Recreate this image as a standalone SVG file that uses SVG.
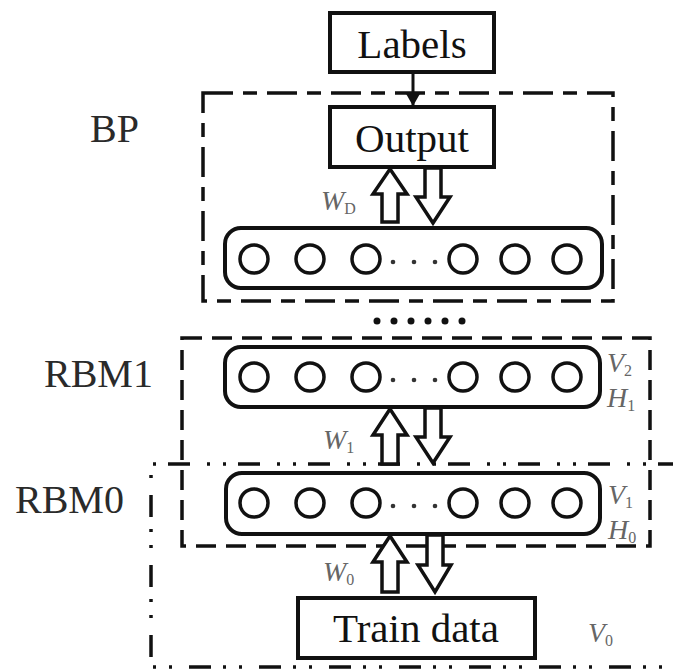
<svg xmlns="http://www.w3.org/2000/svg" width="673" height="671" viewBox="0 0 673 671">
<style>
.box{fill:#fff;stroke:#111;stroke-width:4}
.row{fill:#fff;stroke:#111;stroke-width:4}
.n{fill:none;stroke:#111;stroke-width:3.5}
.dot{fill:#333}
.big{fill:#111}
.t{font-family:"Liberation Serif","Times New Roman",serif;font-size:41px;fill:#111;text-anchor:middle}
.lab{font-family:"Liberation Serif","Times New Roman",serif;font-size:40px;fill:#2a2a2a}
.w{font-family:"Liberation Serif","Times New Roman",serif;font-size:28px;font-style:italic;fill:#666}
.sub{font-size:16px;font-style:normal}
.bp{fill:none;stroke:#111;stroke-width:3.5;stroke-dasharray:30 10 14 10}
.rb1{fill:none;stroke:#111;stroke-width:3.5;stroke-dasharray:20 10}
.rb0{fill:none;stroke:#111;stroke-width:3.5;stroke-dasharray:22 12 3 13 3 17}
.ar{fill:#fff;stroke:#111;stroke-width:3.5;stroke-linejoin:miter}
</style>
<defs>
<g id="neurons">
<circle class="n" cx="254" cy="0" r="14"/>
<circle class="n" cx="310" cy="0" r="14"/>
<circle class="n" cx="366" cy="0" r="14"/>
<circle class="n" cx="463" cy="0" r="14"/>
<circle class="n" cx="515" cy="0" r="14"/>
<circle class="n" cx="567" cy="0" r="14"/>
<circle class="dot" cx="393" cy="3" r="2.3"/>
<circle class="dot" cx="414" cy="3" r="2.3"/>
<circle class="dot" cx="435" cy="3" r="2.3"/>
</g>
<marker id="tri" markerWidth="14" markerHeight="16" refX="14" refY="8" orient="auto" markerUnits="userSpaceOnUse">
<path d="M0,0 L14,8 L0,16 Z" fill="#111"/>
</marker>
</defs>

<!-- region boxes -->
<g id="BP">
<rect class="bp" x="203" y="93" width="410" height="208"/>
<text class="lab" x="90" y="142">BP</text>
</g>
<g id="RBM1">
<rect class="rb1" x="182" y="338" width="468" height="208"/>
<text class="lab" x="44" y="387">RBM1</text>
</g>
<g id="RBM0">
<path class="rb0" d="M680,464 H151 V667 H680"/>
<text class="lab" x="15" y="513">RBM0</text>
</g>

<!-- nodes -->
<g id="labels">
<rect class="box" x="330" y="13" width="164" height="59"/>
<text class="t" x="412" y="58">Labels</text>
</g>
<g id="output">
<rect class="box" x="330" y="107" width="164" height="60"/>
<text class="t" x="412" y="152">Output</text>
</g>
<g id="layerBP">
<rect class="row" x="225" y="228" width="377" height="60" rx="16"/>
<use href="#neurons" y="259"/>
</g>
<g id="layer1">
<rect class="row" x="225" y="347" width="375" height="60" rx="16"/>
<use href="#neurons" y="377"/>
<text class="w" x="607" y="372">V<tspan class="sub" dy="4">2</tspan></text>
<text class="w" x="607" y="407">H<tspan class="sub" dy="4">1</tspan></text>
</g>
<g id="layer0">
<rect class="row" x="226" y="473" width="374" height="61" rx="16"/>
<use href="#neurons" y="503"/>
<text class="w" x="608" y="504">V<tspan class="sub" dy="4">1</tspan></text>
<text class="w" x="608" y="539">H<tspan class="sub" dy="4">0</tspan></text>
</g>
<g id="train">
<rect class="box" x="298" y="598" width="237" height="60"/>
<text class="t" x="416" y="642">Train data</text>
<text class="w" x="588" y="642">V<tspan class="sub" dy="4">0</tspan></text>
</g>
<g id="ellipsis">
<circle class="big" cx="377" cy="321" r="3.5"/>
<circle class="big" cx="394" cy="321" r="3.5"/>
<circle class="big" cx="411" cy="321" r="3.5"/>
<circle class="big" cx="428" cy="321" r="3.5"/>
<circle class="big" cx="445" cy="321" r="3.5"/>
<circle class="big" cx="462" cy="321" r="3.5"/>
</g>

<!-- connectors -->
<g id="connectors">
<line x1="413" y1="72" x2="413" y2="106" stroke="#111" stroke-width="3" marker-end="url(#tri)"/>
<!-- WD -->
<path class="ar" d="M390,169 L407,194 L398,194 L398,222 L382,222 L382,194 L373,194 Z"/>
<path class="ar" d="M425,168 L441,168 L441,197 L450,197 L433,223 L416,197 L425,197 Z"/>
<text class="w" x="321" y="210">W<tspan class="sub" dy="4">D</tspan></text>
<!-- W1 -->
<path class="ar" d="M390,409 L407,435 L398,435 L398,464 L382,464 L382,435 L373,435 Z"/>
<path class="ar" d="M425,408 L441,408 L441,437 L450,437 L433,463 L416,437 L425,437 Z"/>
<text class="w" x="323" y="449">W<tspan class="sub" dy="4">1</tspan></text>
<!-- W0 -->
<path class="ar" d="M390,536 L407,562 L398,562 L398,592 L382,592 L382,562 L373,562 Z"/>
<path class="ar" d="M427,535 L443,535 L443,565 L451,565 L435,592 L418,565 L427,565 Z"/>
<text class="w" x="323" y="581">W<tspan class="sub" dy="4">0</tspan></text>
</g>
</svg>
